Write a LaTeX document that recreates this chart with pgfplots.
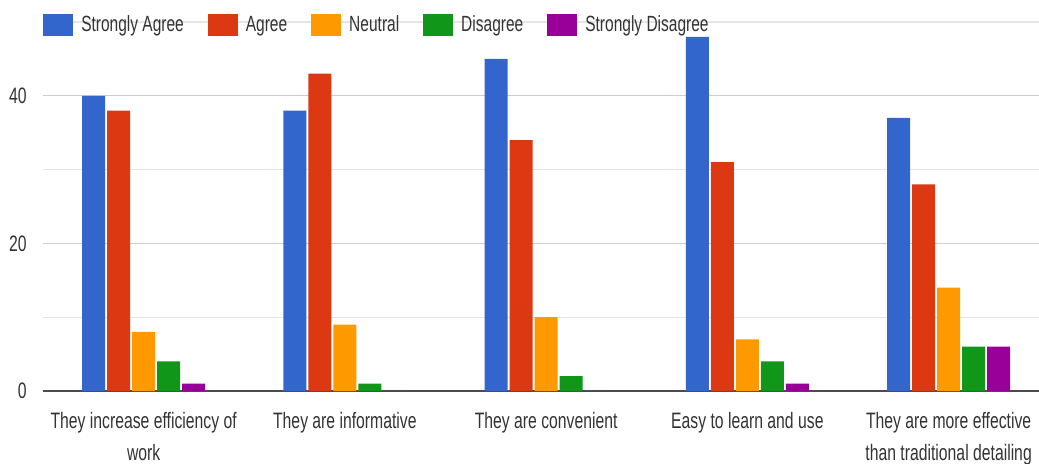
\documentclass[border=0pt]{standalone}
\usepackage{fontspec}
\setmainfont{Liberation Sans}[FakeStretch=0.705]
\usepackage{pgfplots}
\pgfplotsset{compat=1.18}
\definecolor{cSA}{HTML}{3366CC}
\definecolor{cA}{HTML}{DC3912}
\definecolor{cN}{HTML}{FF9900}
\definecolor{cD}{HTML}{109618}
\definecolor{cSD}{HTML}{990099}
\begin{document}
\begin{tikzpicture}
\begin{axis}[
  at={(0,0)}, anchor=south west,
  width=747pt, height=276.75pt, scale only axis,
  xmin=-0.5, xmax=4.449, ymin=0, ymax=50,
  ybar=1.5pt, bar width=17.25pt,
  axis line style={draw=none},
  major tick length=0pt, minor tick length=0pt,
  xtick={0,1,2,3,4},
  xticklabels={They increase efficiency of\\work, They are informative, They are convenient, Easy to learn and use, They are more effective\\than traditional detailing},
  xticklabel style={align=center, font=\fontsize{16.75}{24}\selectfont, text=black!80, inner sep=0pt, yshift=-15.5pt},
  ytick={20,40}, minor ytick={10,30,50},
  extra y ticks={0},
  extra y tick style={grid=major, major grid style={draw=black!70, line width=1.5pt}},
  ymajorgrids, yminorgrids,
  major grid style={draw=black!20, line width=1pt},
  minor grid style={draw=black!10, line width=1pt},
  yticklabel style={font=\fontsize{16.75}{18}\selectfont, text=black!80, inner sep=0pt, xshift=-12pt},
  /pgf/number format/assume math mode=true,
  legend columns=5,
  legend style={at={(rel axis cs:0,1)}, anchor=west, yshift=-2.25pt, draw=none, fill=none, inner sep=0pt,
    font=\fontsize{16.5}{18}\selectfont, text=black!80,
    nodes={inner sep=0pt},
    /tikz/every odd column/.append style={column sep=6pt},
    /tikz/every even column/.append style={column sep=18pt}},
  legend image code/.code={\fill[#1] (0pt,-8.5pt) rectangle (22.5pt,8.5pt);},
]
\addplot[fill=cSA, draw=none] coordinates {(0,40) (1,38) (2,45) (3,48) (4,37)};
\addplot[fill=cA, draw=none] coordinates {(0,38) (1,43) (2,34) (3,31) (4,28)};
\addplot[fill=cN, draw=none] coordinates {(0,8) (1,9) (2,10) (3,7) (4,14)};
\addplot[fill=cD, draw=none] coordinates {(0,4) (1,1) (2,2) (3,4) (4,6)};
\addplot[fill=cSD, draw=none] coordinates {(0,1) (1,0) (2,0) (3,1) (4,6)};
\legend{Strongly Agree, Agree, Neutral, Disagree, Strongly Disagree}
\end{axis}
\pgfresetboundingbox
\path (-32.25pt,-54.75pt) rectangle (747pt,293.25pt);
\end{tikzpicture}
\end{document}
